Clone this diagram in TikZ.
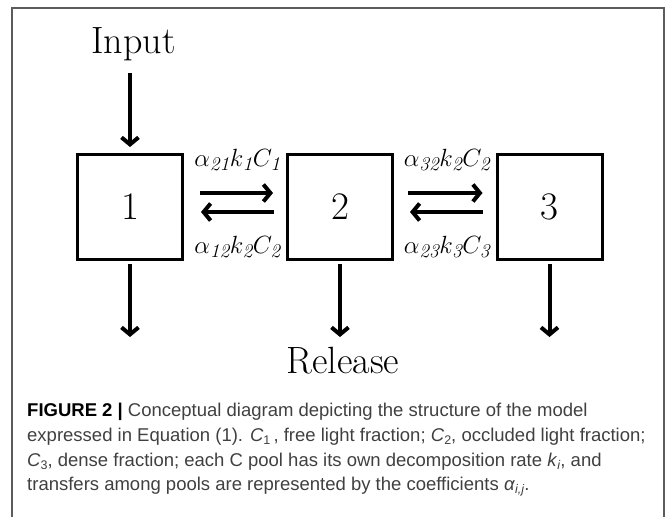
\documentclass[tikz,border=0pt]{standalone}
\usepackage{fontspec}
\usetikzlibrary{arrows.meta}
\newfontfamily\capfont{Liberation Sans}
\DeclareMathSizes{26}{26}{19.5}{14}
\definecolor{framegray}{HTML}{5C5C5C}
\definecolor{captext}{HTML}{404040}
\newcommand\capsub[1]{\raisebox{-0.35ex}{\fontsize{12.5}{12.5}\selectfont #1}}

\begin{document}
\begin{tikzpicture}[x=1pt,y=-1pt,
  pool/.style={draw, line width=3pt, minimum width=105pt, minimum height=105pt,
    inner sep=0pt, font=\fontsize{39}{39}\selectfont},
  flow/.style={line width=4pt, -{Straight Barb[length=7pt,width=17pt]}},
  rate/.style={inner sep=0pt, anchor=base, font=\fontsize{26}{26}\selectfont},
  word/.style={inner sep=0pt, anchor=base, font=\fontsize{38}{38}\selectfont},
  capline/.style={inner sep=0pt, anchor=base west, text=captext,
    font=\capfont\fontsize{18.5}{25}\selectfont}]

\useasboundingbox (0,0) rectangle (667,517);

% open frame around figure and caption
\draw[framegray, line width=1.6pt] (12,517) -- (12,8) -- (664,8) -- (664,517);

% the three carbon pools
\node[pool] (b1) at (130,207) {1};
\node[pool] (b2) at (340,207) {2};
\node[pool] (b3) at (549.5,207) {3};

% input and release
\node[word] (in) at (133.5,53) {Input};
\node[word] (rel) at (343,373) {Release};
\coordinate (inTop) at (130,73);
\draw[flow, shorten >=6pt] (inTop) -- (b1.north);

\coordinate (out1) at (130,337);
\coordinate (out2) at (340,337);
\coordinate (out3) at (549.5,337);
\draw[flow, shorten <=3pt] (b1.south) -- (out1);
\draw[flow, shorten <=3pt] (b2.south) -- (out2);
\draw[flow, shorten <=3pt] (b3.south) -- (out3);

% transfers between pools
\draw[flow, shorten <=16pt, shorten >=13pt] ([yshift=14pt]b1.east) -- ([yshift=14pt]b2.west);
\draw[flow, shorten <=12pt, shorten >=17pt] ([yshift=-5pt]b2.west) -- ([yshift=-5pt]b1.east);
\draw[flow, shorten <=14pt, shorten >=13pt] ([yshift=14pt]b2.east) -- ([yshift=14pt]b3.west);
\draw[flow, shorten <=13pt, shorten >=16pt] ([yshift=-5pt]b3.west) -- ([yshift=-5pt]b2.east);

\node[rate] (r21) at (237.5,166) {$\alpha_{\mathit{21}}k_{\mathit{1}}C_{\mathit{1}}$};
\node[rate] (r12) at (237.5,253) {$\alpha_{\mathit{12}}k_{\mathit{2}}C_{\mathit{2}}$};
\node[rate] (r32) at (447,166) {$\alpha_{\mathit{32}}k_{\mathit{2}}C_{\mathit{2}}$};
\node[rate] (r23) at (447,253) {$\alpha_{\mathit{23}}k_{\mathit{3}}C_{\mathit{3}}$};

% caption
\node[capline] (c1) at (27,416) {{\color{black}\bfseries FIGURE 2 |} Conceptual diagram depicting the structure of the model};
\node[capline] (c2) at (27,441) {expressed in Equation (1). \textit{C}\capsub{1}\,, free light fraction; \textit{C}\capsub{2}, occluded light fraction;};
\node[capline] (c3) at (27,466) {\textit{C}\capsub{3}, dense fraction; each C pool has its own decomposition rate \textit{k}\capsub{\textit{i}}, and};
\node[capline] (c4) at (27,490) {transfers among pools are represented by the coefficients \textit{α}\capsub{\textit{i,j}}.};
\end{tikzpicture}
\end{document}
